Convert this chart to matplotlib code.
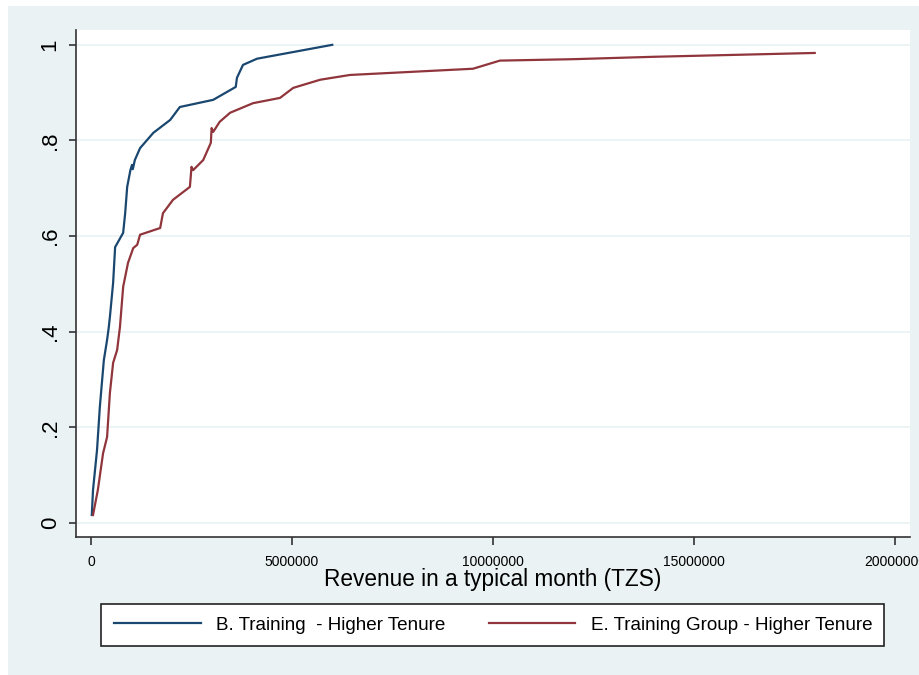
import matplotlib
matplotlib.use("Agg")
import matplotlib.pyplot as plt
from matplotlib.patches import Rectangle

plt.rcParams['font.family'] = ['Liberation Sans', 'DejaVu Sans']

# Series B: Training - Higher Tenure (revenue in TZS, cumulative share)
b_x = [0.02e6, 0.05e6, 0.15e6, 0.22e6, 0.32e6, 0.40e6, 0.44e6, 0.47e6, 0.55e6, 0.60e6,
       0.80e6, 0.85e6, 0.90e6, 0.98e6, 1.02e6, 1.04e6, 1.09e6, 1.22e6, 1.55e6, 1.97e6,
       2.21e6, 3.04e6, 3.60e6, 3.63e6, 3.78e6, 4.13e6, 6.00e6]
b_y = [0.017, 0.069, 0.153, 0.243, 0.341, 0.383, 0.408, 0.431, 0.502, 0.577,
       0.607, 0.648, 0.703, 0.738, 0.749, 0.740, 0.759, 0.784, 0.816, 0.843,
       0.870, 0.885, 0.912, 0.931, 0.958, 0.971, 1.000]

# Series E: Training Group - Higher Tenure
e_x = [0.05e6, 0.17e6, 0.30e6, 0.40e6, 0.47e6, 0.55e6, 0.65e6, 0.72e6, 0.80e6, 0.92e6,
       1.05e6, 1.15e6, 1.22e6, 1.72e6, 1.79e6, 2.04e6, 2.46e6, 2.50e6, 2.54e6, 2.79e6,
       2.98e6, 3.00e6, 3.04e6, 3.20e6, 3.46e6, 4.03e6, 4.70e6, 5.03e6, 5.70e6, 6.44e6,
       9.50e6, 10.17e6, 12.0e6, 14.0e6, 16.0e6, 18.0e6]
e_y = [0.017, 0.069, 0.146, 0.180, 0.272, 0.335, 0.362, 0.410, 0.494, 0.544,
       0.575, 0.582, 0.603, 0.617, 0.648, 0.676, 0.703, 0.745, 0.738, 0.759,
       0.795, 0.826, 0.818, 0.839, 0.858, 0.878, 0.889, 0.910, 0.927, 0.937,
       0.950, 0.967, 0.970, 0.975, 0.979, 0.983]

series_labels = ["B. Training  - Higher Tenure", "E. Training Group - Higher Tenure"]
x_ticks = [0, 5000000, 10000000, 15000000, 20000000]
x_tick_labels = ["0", "5000000", "10000000", "15000000", "20000000"]
y_ticks = [0, 0.2, 0.4, 0.6, 0.8, 1.0]
y_tick_labels = ["0", ".2", ".4", ".6", ".8", "1"]
x_label = "Revenue in a typical month (TZS)"

W, H = 920, 675
fig = plt.figure(figsize=(W / 100, H / 100), dpi=100, facecolor="white")
bg = "#EAF2F3"
fig.patches.append(Rectangle((8 / W, 0), 1 - 8 / W, 1 - 6 / H, transform=fig.transFigure,
                             facecolor=bg, edgecolor="none", zorder=-10))

ax = fig.add_axes([76 / W, 1 - 537 / H, (910 - 76) / W, (537 - 30) / H])
ax.set_facecolor("white")

ax.plot(b_x, b_y, color="#1a476f", lw=1.6, label=series_labels[0])
ax.plot(e_x, e_y, color="#90353b", lw=1.6, label=series_labels[1])

ax.set_xlim(-0.373e6, 20.37e6)
ax.set_ylim(-0.029, 1.031)

for s in ["top", "right"]:
    ax.spines[s].set_visible(False)
for s in ["left", "bottom"]:
    ax.spines[s].set_color("#333333")
    ax.spines[s].set_linewidth(1.2)

ax.set_yticks(y_ticks)
ax.set_yticklabels(y_tick_labels, rotation=90, va="center", fontsize=16)
ax.set_xticks(x_ticks)
ax.set_xticklabels(x_tick_labels, fontsize=10)
ax.tick_params(axis="y", direction="out", length=5, width=1.2, color="#333333", pad=6)
ax.tick_params(axis="x", direction="out", length=6, width=1.2, color="#333333", pad=7)
ax.grid(axis="y", color=bg, lw=1.2)
ax.set_axisbelow(True)

ax.set_xlabel(x_label, fontsize=16.3, labelpad=-1)

leg = fig.legend(loc="center", bbox_to_anchor=(493 / W, 1 - 625 / H), ncol=2,
                 fontsize=13.6, handlelength=4.6, handletextpad=0.8, columnspacing=2.3,
                 borderpad=0.65, borderaxespad=0, frameon=True, fancybox=False,
                 edgecolor="#222222", framealpha=1)
leg.get_frame().set_linewidth(1.2)

fig.savefig("out.png", dpi=100, facecolor=fig.get_facecolor())
